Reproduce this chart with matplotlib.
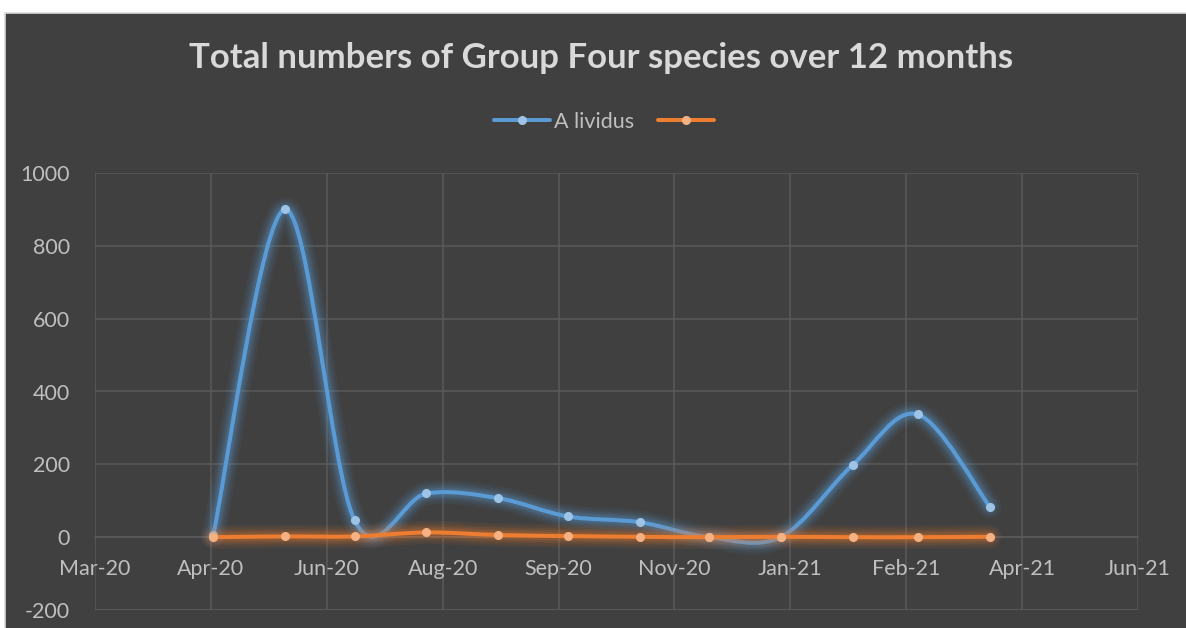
import matplotlib
matplotlib.use("Agg")
import matplotlib.pyplot as plt
import matplotlib.dates as mdates
from matplotlib.path import Path
from matplotlib.patches import PathPatch, Rectangle
from matplotlib.lines import Line2D
import numpy as np
import datetime as dt

# ---- data ----
months = ["2020-04-30", "2020-05-31", "2020-06-30", "2020-07-31", "2020-08-31", "2020-09-30",
          "2020-10-31", "2020-11-30", "2020-12-31", "2021-01-31", "2021-02-28", "2021-03-31"]
a_lividus = [5, 900, 46, 120, 107, 57, 41, 0, 1, 199, 337, 84]
series2 = [0, 2, 2, 13, 6, 3, 1, 0, 1, 0, 0, 1]
series_labels = ["A lividus", ""]
title = "Total numbers of Group Four species over 12 months"
x_start = "2020-03-10"
x_step_days = 50
n_x_ticks = 10
y_ticks = [-200, 0, 200, 400, 600, 800, 1000]

plt.rcParams['font.family'] = ['Lato', 'DejaVu Sans']
plt.rcParams['axes.unicode_minus'] = False

BG = "#404040"
GRID = "#5a5a5a"
TXT = "#bfbfbf"
BLUE = "#5b9bd5"
BLUE_M = "#9dc3e6"
ORANGE = "#ed7d31"
ORANGE_M = "#f4b183"

W, H = 1186, 628
fig = plt.figure(figsize=(W / 100, H / 100), dpi=100, facecolor="white")

# chart area with border
fig.patches.append(Rectangle((5 / W, -0.1), 1.1, 1.1 - 13 / H, transform=fig.transFigure,
                             facecolor=BG, edgecolor="#d9d9d9", linewidth=1.2, zorder=-5))

ax = fig.add_axes([95 / W, 1 - 610 / H, (1138 - 95) / W, (610 - 173) / H])
ax.set_facecolor(BG)
ax.set_zorder(1)

x0 = mdates.date2num(dt.datetime.fromisoformat(x_start))
xticks = [x0 + i * x_step_days for i in range(n_x_ticks)]
ax.set_xlim(xticks[0], xticks[-1])
ax.set_ylim(-200, 1000)
ax.set_xticks(xticks)
ax.xaxis.set_major_formatter(mdates.DateFormatter("%b-%y"))
ax.set_yticks(y_ticks)
ax.grid(True, color=GRID, linewidth=1.1)
ax.set_axisbelow(True)
for s in ["top", "left", "right"]:
    ax.spines[s].set_visible(False)
ax.spines["bottom"].set_position(("data", 0))
ax.spines["bottom"].set_color(GRID)
ax.spines["bottom"].set_linewidth(1.1)
ax.tick_params(axis="both", length=0, colors=TXT, labelsize=15.5)
ax.tick_params(axis="x", pad=16)
ax.tick_params(axis="y", pad=18)
# bottom border line at -200
ax.axhline(-200, color=GRID, linewidth=1.1, zorder=0.5)

xs = np.array([mdates.date2num(dt.datetime.fromisoformat(m)) for m in months])


def smooth_path(x, y):
    pts = np.column_stack([x, y]).astype(float)
    n = len(pts)
    verts = [pts[0]]
    codes = [Path.MOVETO]
    for i in range(n - 1):
        p0 = pts[i - 1] if i > 0 else pts[i]
        p1 = pts[i]
        p2 = pts[i + 1]
        p3 = pts[i + 2] if i + 2 < n else pts[i + 1]
        c1 = p1 + (p2 - p0) / 6.0
        c2 = p2 - (p3 - p1) / 6.0
        verts += [c1, c2, p2]
        codes += [Path.CURVE4] * 3
    return Path(np.array(verts), codes)


def draw_series(y, color, mcolor, z):
    path = smooth_path(xs, y)
    # glow
    for lw, a in [(17, 0.07), (13.5, 0.08), (10.5, 0.10), (8, 0.12), (6, 0.15)]:
        ax.add_patch(PathPatch(path, fill=False, edgecolor=color, linewidth=lw, alpha=a,
                               capstyle="round", joinstyle="round", zorder=z))
    ax.add_patch(PathPatch(path, fill=False, edgecolor=color, linewidth=2.9,
                           capstyle="round", joinstyle="round", zorder=z + 0.1))
    ax.plot(xs, y, linestyle="none", marker="o", markersize=5.5, markerfacecolor=mcolor,
            markeredgecolor=mcolor, zorder=z + 0.2)


draw_series(a_lividus, BLUE, BLUE_M, 3)
draw_series(series2, ORANGE, ORANGE_M, 4)

fig.text(601 / W, 1 - 58 / H, title, ha="center", va="center", fontsize=25,
         fontweight="bold", color="#d9d9d9")

handles = [Line2D([], [], color=BLUE, lw=2.9, marker="o", markersize=5.5,
                  markerfacecolor=BLUE_M, markeredgecolor=BLUE_M, solid_capstyle="round"),
           Line2D([], [], color=ORANGE, lw=2.9, marker="o", markersize=5.5,
                  markerfacecolor=ORANGE_M, markeredgecolor=ORANGE_M, solid_capstyle="round")]
leg = fig.legend(handles, series_labels, loc="center", bbox_to_anchor=(606 / W, 1 - 122 / H),
                 ncol=2, frameon=False, fontsize=15.5, handlelength=2.6, handletextpad=0.2,
                 columnspacing=1.1, labelcolor=TXT)

fig.savefig("out.png", dpi=100, facecolor="white")
